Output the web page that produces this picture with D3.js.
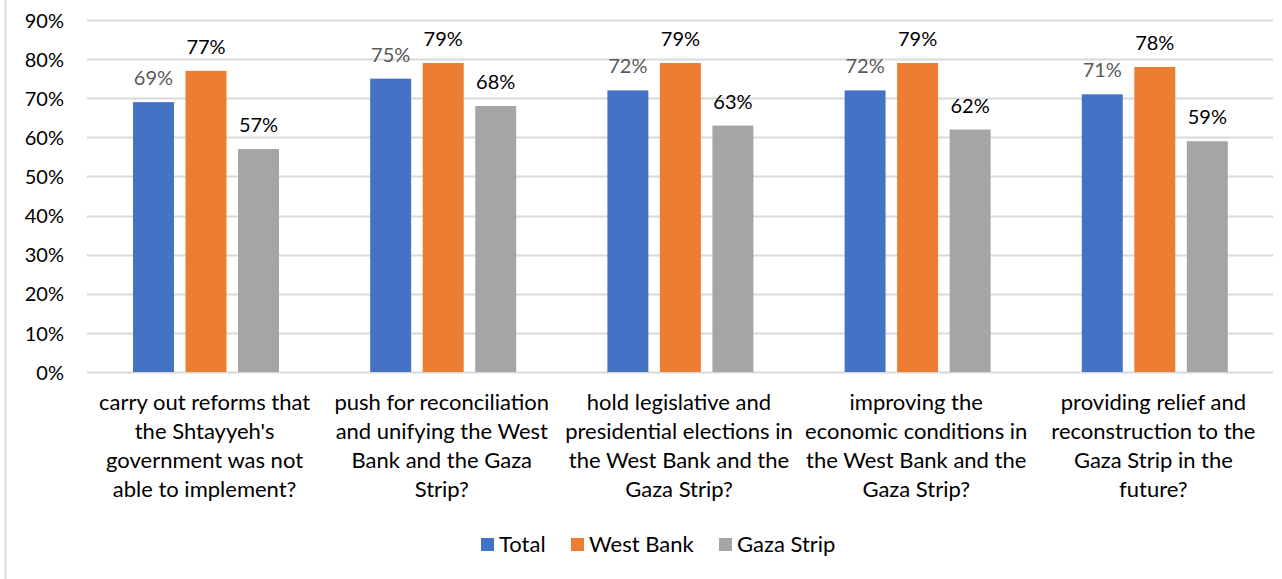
<!DOCTYPE html>
<html>
<head>
<meta charset="utf-8">
<script src="https://cdn.jsdelivr.net/npm/d3@7"></script>
<style>
  body { margin: 0; background: #fff; }
  text { font-family: Lato, "Liberation Sans", sans-serif; }
</style>
</head>
<body>
<div id="chart-area"></div>
<script>
// chart values
var categories = [
    ["carry out reforms that", "the Shtayyeh's", "government was not", "able to implement?"],
    ["push for reconciliation", "and unifying the West", "Bank and the Gaza", "Strip?"],
    ["hold legislative and", "presidential elections in", "the West Bank and the", "Gaza Strip?"],
    ["improving the", "economic conditions in", "the West Bank and the", "Gaza Strip?"],
    ["providing relief and", "reconstruction to the", "Gaza Strip in the", "future?"]
];
var seriesNames = ["Total", "West Bank", "Gaza Strip"];
var total = [69, 75, 72, 72, 71];
var westBank = [77, 79, 79, 79, 78];
var gazaStrip = [57, 68, 63, 62, 59];
var yTicks = [0, 10, 20, 30, 40, 50, 60, 70, 80, 90];

var colors = ["#4472C4", "#ED7D31", "#A5A5A5"];
var labelColors = ["#595959", "#000000", "#000000"];

var width = 1282;
var height = 579;
var plot = {left: 87, right: 1273, top: 20, bottom: 372};

var svg = d3.select('#chart-area')
    .append('svg')
        .attr('width', width)
        .attr('height', height);

// frame line on the left
svg.append("line")
    .attr("x1", 5.5).attr("x2", 5.5)
    .attr("y1", 0).attr("y2", height)
    .attr("stroke", "#d9d9d9")
    .attr("stroke-width", 2);

var y = d3.scaleLinear().domain([0, 90]).range([plot.bottom, plot.top]);

var x0 = d3.scaleBand()
    .domain(d3.range(categories.length))
    .range([plot.left, plot.right]);

var x1 = d3.scaleBand()
    .domain(seriesNames)
    .range([46, 192])
    .paddingInner(0.22);

// gridlines
svg.append("g")
    .selectAll("line")
    .data(yTicks)
    .enter()
    .append("line")
        .attr("x1", plot.left)
        .attr("x2", plot.right)
        .attr("y1", (d) => { return Math.round(y(d)) + 0.5; })
        .attr("y2", (d) => { return Math.round(y(d)) + 0.5; })
        .attr("stroke", "#d9d9d9")
        .attr("stroke-width", 2);

// left axis labels
var leftAxis = d3.axisLeft(y).tickValues(yTicks).tickSize(0).tickPadding(0)
    .tickFormat((d) => { return d + "%"; });
var ax = svg.append("g")
    .attr("class", "left axis")
    .attr("transform", "translate(64, 0)")
    .call(leftAxis);
ax.select(".domain").remove();
ax.selectAll("text")
    .attr("font-size", "20px")
    .attr("fill", "#000")
    .attr("dy", "0.36em")
    .style("font-family", "Lato, sans-serif");

var series = [total, westBank, gazaStrip];
var rows = [];
series.forEach((vals, s) => {
    vals.forEach((v, i) => {
        rows.push({s: s, name: seriesNames[s], i: i, v: v});
    });
});

// bars
svg.append("g")
    .selectAll("rect")
    .data(rows)
    .enter()
    .append("rect")
        .attr("x", (d) => { return x0(d.i) + x1(d.name); })
        .attr("y", (d) => { return y(d.v); })
        .attr("width", x1.bandwidth())
        .attr("height", (d) => { return y(0) - y(d.v); })
        .attr("fill", (d) => { return colors[d.s]; });

// value labels
svg.append("g")
    .selectAll("text")
    .data(rows)
    .enter()
    .append("text")
        .attr("x", (d) => { return x0(d.i) + x1(d.name) + x1.bandwidth() / 2; })
        .attr("y", (d) => { return y(d.v) - 17; })
        .attr("text-anchor", "middle")
        .attr("font-size", "20px")
        .attr("fill", (d) => { return labelColors[d.s]; })
        .text((d) => { return d.v + "%"; });

// category labels
var cat = svg.append("g")
    .selectAll("text")
    .data(categories)
    .enter()
    .append("text")
        .attr("x", (d, i) => { return x0(i) + x0.bandwidth() / 2 - 1; })
        .attr("y", 410)
        .attr("text-anchor", "middle")
        .attr("font-size", "22px")
        .attr("fill", "#000");
cat.selectAll("tspan")
    .data((d) => { return d; })
    .enter()
    .append("tspan")
        .attr("x", function () { return d3.select(this.parentNode).attr("x"); })
        .attr("dy", (d, j) => { return j === 0 ? 0 : 29; })
        .text((d) => { return d; });

// legend
var legendX = [481, 571, 719];
var lg = svg.append("g")
    .selectAll("g")
    .data(seriesNames)
    .enter()
    .append("g")
        .attr("transform", (d, i) => { return "translate(" + legendX[i] + ", 538)"; });
lg.append("rect")
    .attr("width", 13)
    .attr("height", 13)
    .attr("fill", (d, i) => { return colors[i]; });
lg.append("text")
    .attr("x", 18)
    .attr("y", 14)
    .attr("font-size", "22px")
    .attr("fill", "#000")
    .text((d) => { return d; });
</script>
</body>
</html>
